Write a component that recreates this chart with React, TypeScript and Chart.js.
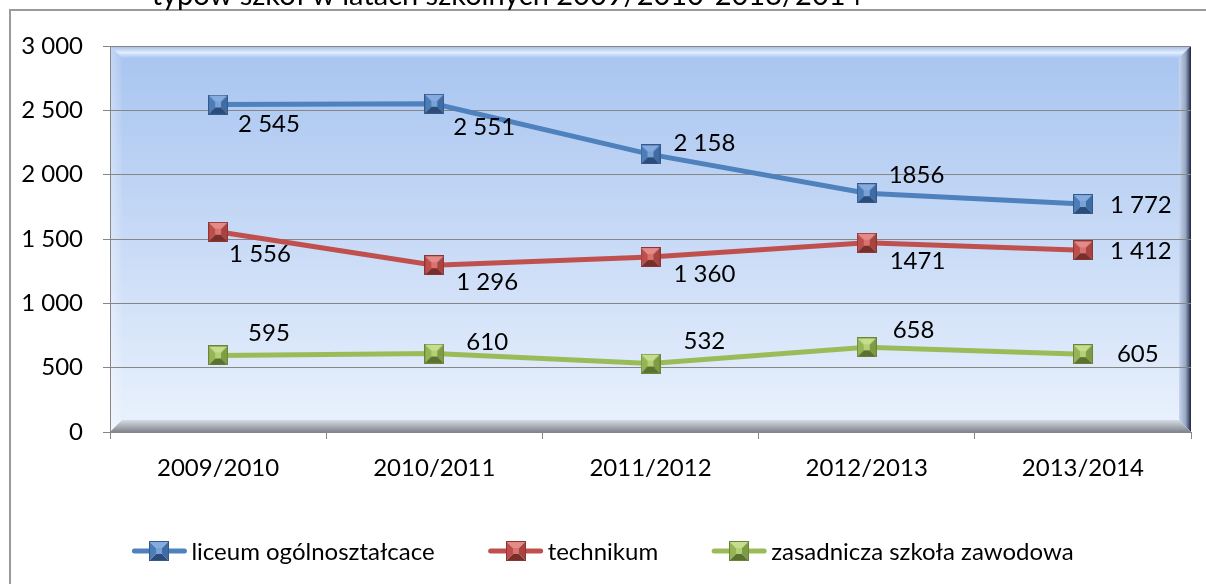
import React, { useEffect, useRef } from "react";
import { Chart, registerables } from "chart.js";

Chart.register(...registerables);

const categories = ["2009/2010", "2010/2011", "2011/2012", "2012/2013", "2013/2014"];
const seriesNames = ["liceum ogólnoształcace", "technikum", "zasadnicza szkoła zawodowa"];
const liceumValues = [2545, 2551, 2158, 1856, 1772];
const technikumValues = [1556, 1296, 1360, 1471, 1412];
const zasadniczaValues = [595, 610, 532, 658, 605];
const liceumLabels = ["2 545", "2 551", "2 158", "1856", "1 772"];
const technikumLabels = ["1 556", "1 296", "1 360", "1471", "1 412"];
const zasadniczaLabels = ["595", "610", "532", "658", "605"];
const yMin = 0;
const yMax = 3000;
const yStep = 500;
const titleText = "typów szkół w latach szkolnych 2009/2010-2013/2014";

// style: label offsets relative to each point (dx, dy)
const labelOffsets = [
  [[20, 20], [19, 23], [23, -11], [22, -18], [27, 1]],
  [[11, 22], [22, 17], [23, 17], [23, 19], [27, 1]],
  [[30, -22], [32, -11], [33, -22], [26, -17], [34, 0]],
];

const FONT = "Lato";
const FS = 24;

type Pal = { base: string; top: string; left: string; right: string; bottom: string; center: string; edge: string };
const palettes: Pal[] = [
  { base: "#4F81BD", top: "#86ACDF", left: "#4C7DB9", right: "#3F6CA3", bottom: "#2B4C78", center: "#79A2D8", edge: "#34598A" },
  { base: "#C0504D", top: "#E58A87", left: "#BD4E4B", right: "#A84340", bottom: "#7A2E2C", center: "#D9736F", edge: "#8C3532" },
  { base: "#9BBB59", top: "#C6DD8C", left: "#95B555", right: "#7F9C45", bottom: "#5A7130", center: "#B4D074", edge: "#6A8536" },
];

function makeMarker(p: Pal): HTMLCanvasElement {
  const s = 20;
  const c = document.createElement("canvas");
  c.width = s;
  c.height = s;
  const g = c.getContext("2d")!;
  const m = s / 2;
  const ci = 3;
  const tri = (pts: number[][], col: string) => {
    g.beginPath();
    g.moveTo(pts[0][0], pts[0][1]);
    for (let i = 1; i < pts.length; i++) g.lineTo(pts[i][0], pts[i][1]);
    g.closePath();
    g.fillStyle = col;
    g.fill();
  };
  tri([[0, 0], [s, 0], [m + ci, m - ci], [m - ci, m - ci]], p.top);
  tri([[0, 0], [m - ci, m - ci], [m - ci, m + ci], [0, s]], p.left);
  tri([[s, 0], [s, s], [m + ci, m + ci], [m + ci, m - ci]], p.right);
  tri([[0, s], [m - ci, m + ci], [m + ci, m + ci], [s, s]], p.bottom);
  g.fillStyle = p.center;
  g.fillRect(m - ci, m - ci, ci * 2, ci * 2);
  g.strokeStyle = p.edge;
  g.lineWidth = 1;
  g.strokeRect(0.5, 0.5, s - 1, s - 1);
  return c;
}

function fmt(v: number): string {
  if (v >= 1000) return Math.floor(v / 1000) + " " + String(v % 1000).padStart(3, "0");
  return String(v);
}

export default function App() {
  const ref = useRef<HTMLCanvasElement | null>(null);
  useEffect(() => {
    if (!ref.current) return;
    const markers = palettes.map(makeMarker);
    const allLabels = [liceumLabels, technikumLabels, zasadniczaLabels];

    const bgPlugin = {
      id: "bg",
      beforeDraw(chart: any) {
        const { ctx, chartArea: a } = chart;
        ctx.save();
        // outer frame
        ctx.strokeStyle = "#9A9A9A";
        ctx.lineWidth = 2;
        ctx.beginPath();
        ctx.moveTo(10, 700);
        ctx.lineTo(10, 10);
        ctx.lineTo(1400, 10);
        ctx.stroke();
        // title (clipped)
        ctx.fillStyle = "#000";
        ctx.font = `29px ${FONT}`;
        ctx.textAlign = "center";
        ctx.textBaseline = "alphabetic";
        ctx.fillText(titleText, 507, 5);

        const L = a.left, T = a.top, R = a.right, B = a.bottom;
        const b = 12;
        const gr = ctx.createLinearGradient(0, T, 0, B);
        gr.addColorStop(0, "#A7C4F0");
        gr.addColorStop(0.5, "#C8DAF6");
        gr.addColorStop(1, "#EAF2FD");
        ctx.fillStyle = gr;
        ctx.fillRect(L, T, R - L, B - T);
        const poly = (pts: number[][], fill: any) => {
          ctx.beginPath();
          ctx.moveTo(pts[0][0], pts[0][1]);
          for (let i = 1; i < pts.length; i++) ctx.lineTo(pts[i][0], pts[i][1]);
          ctx.closePath();
          ctx.fillStyle = fill;
          ctx.fill();
        };
        // top bevel
        const gt = ctx.createLinearGradient(0, T, 0, T + b);
        gt.addColorStop(0, "rgba(160,185,225,1)");
        gt.addColorStop(0.55, "rgba(225,238,255,1)");
        gt.addColorStop(1, "rgba(170,198,242,1)");
        poly([[L, T], [R, T], [R - b, T + b], [L + b, T + b]], gt);
        // left bevel
        const gl = ctx.createLinearGradient(L, 0, L + b, 0);
        gl.addColorStop(0, "rgba(255,255,255,0.35)");
        gl.addColorStop(1, "rgba(255,255,255,0.05)");
        poly([[L, T], [L + b, T + b], [L + b, B - b], [L, B]], gl);
        // right bevel
        const grr = ctx.createLinearGradient(R - b, 0, R, 0);
        grr.addColorStop(0, "rgba(200,215,238,1)");
        grr.addColorStop(0.55, "rgba(150,165,195,1)");
        grr.addColorStop(0.85, "rgba(70,82,110,1)");
        grr.addColorStop(1, "rgba(25,32,50,1)");
        poly([[R, T], [R, B], [R - b, B - b], [R - b, T + b]], grr);
        // bottom bevel
        const gb = ctx.createLinearGradient(0, B - b, 0, B);
        gb.addColorStop(0, "rgba(215,220,228,1)");
        gb.addColorStop(1, "rgba(128,133,142,1)");
        poly([[L, B], [L + b, B - b], [R - b, B - b], [R, B]], gb);
        ctx.restore();
      },
    };

    const labelPlugin = {
      id: "labels",
      afterDatasetsDraw(chart: any) {
        const { ctx } = chart;
        ctx.save();
        ctx.font = `${FS}px ${FONT}`;
        ctx.fillStyle = "#000";
        ctx.textAlign = "left";
        ctx.textBaseline = "middle";
        chart.data.datasets.forEach((ds: any, di: number) => {
          const meta = chart.getDatasetMeta(di);
          meta.data.forEach((pt: any, i: number) => {
            const [dx, dy] = labelOffsets[di][i];
            ctx.fillText(allLabels[di][i], pt.x + dx, pt.y + dy);
          });
        });
        ctx.restore();
      },
      afterDraw(chart: any) {
        const { ctx } = chart;
        ctx.save();
        ctx.font = `${FS}px ${FONT}`;
        ctx.textBaseline = "middle";
        ctx.textAlign = "left";
        const lineW = 54, gap = 5, itemGap = 54;
        const widths = chart.data.datasets.map((ds: any) => lineW + gap + ctx.measureText(ds.label).width);
        const total = widths.reduce((s: number, w: number) => s + w, 0) + itemGap * (widths.length - 1);
        let x = chart.width / 2 - total / 2;
        const y = 551;
        chart.data.datasets.forEach((ds: any, di: number) => {
          ctx.strokeStyle = ds.borderColor;
          ctx.lineWidth = 5;
          ctx.lineCap = "round";
          ctx.beginPath();
          ctx.moveTo(x + 2, y);
          ctx.lineTo(x + lineW - 2, y);
          ctx.stroke();
          const mk = markers[di];
          ctx.drawImage(mk, Math.round(x + lineW / 2 - mk.width / 2), Math.round(y - mk.height / 2));
          ctx.fillStyle = "#000";
          ctx.fillText(ds.label, x + lineW + gap, y + 1);
          x += widths[di] + itemGap;
        });
        ctx.restore();
      },
    };

    const values = [liceumValues, technikumValues, zasadniczaValues];
    const chart = new Chart(ref.current, {
      type: "line",
      data: {
        labels: categories,
        datasets: values.map((v, i) => ({
          label: seriesNames[i],
          data: v,
          borderColor: palettes[i].base,
          backgroundColor: palettes[i].base,
          borderWidth: 5,
          pointStyle: markers[i] as any,
          pointRadius: 10,
          tension: 0,
          fill: false,
        })),
      },
      options: {
        responsive: false,
        animation: false,
        devicePixelRatio: 1,
        layout: { padding: { left: 10, top: 46, right: 13, bottom: 0 } },
        plugins: {
          legend: { display: false },
          tooltip: { enabled: false },
          title: { display: false },
        },
        scales: {
          x: {
            offset: true,
            grid: { drawOnChartArea: false, drawTicks: true, tickLength: 7, color: "#868686", offset: true },
            border: { display: true, color: "#868686" },
            ticks: { font: { family: FONT, size: FS }, color: "#000", padding: 15, maxRotation: 0 },
            afterFit(s: any) { s.height = 152; },
          },
          y: {
            min: yMin,
            max: yMax,
            grid: { color: "#868686", tickLength: 7, drawTicks: true },
            border: { display: true, color: "#868686" },
            ticks: {
              stepSize: yStep,
              font: { family: FONT, size: FS },
              color: "#000",
              padding: 20,
              callback: (v: any) => fmt(Number(v)),
            },
            afterFit(s: any) { s.width = 100; },
          },
        },
      },
      plugins: [bgPlugin, labelPlugin],
    });
    return () => chart.destroy();
  }, []);

  return (
    <div style={{ position: "absolute", left: 0, top: 0, width: 1206, height: 584, background: "#fff" }}>
      <canvas ref={ref} width={1206} height={584} style={{ display: "block" }} />
    </div>
  );
}
